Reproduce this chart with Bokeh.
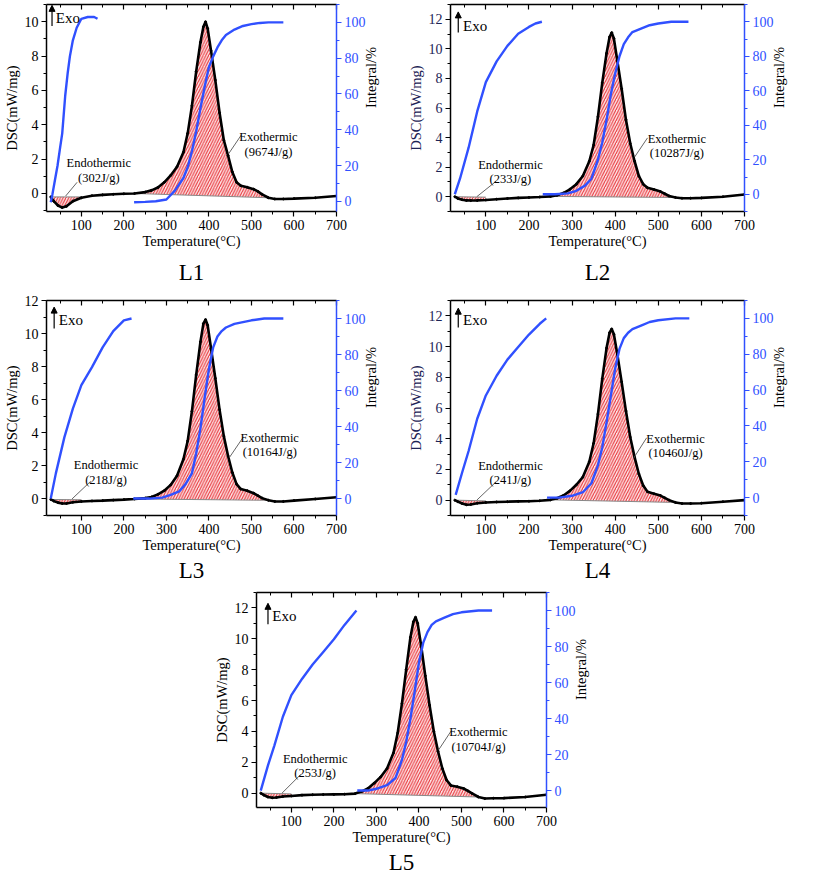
import math
from bokeh.plotting import figure
from bokeh.models import (Range1d, LinearAxis, Title, Arrow, NormalHead, Label,
                          Spacer, SingleIntervalTicker)
from bokeh.layouts import column, row
from bokeh.embed import file_html
from bokeh.resources import INLINE

FONT = "Liberation Serif"
BLUE = "#3050ff"
RED = "#e8333a"

# ---------------- data ----------------
T = [28, 35, 45, 55, 65, 80, 100, 125, 150, 175, 200, 225, 250, 265, 280, 295,
     310, 325, 340, 350, 360, 370, 380, 387, 392, 397, 405, 415, 425, 435, 445,
     455, 465, 475, 490, 505, 515, 525, 540, 555, 575, 600, 650, 700]

L1_dsc = [-0.2, -0.45, -0.7, -0.82, -0.75, -0.45, -0.25, -0.13, -0.08, -0.05, -0.02, 0.0, 0.08, 0.18, 0.35, 0.65,
          1.05, 1.55, 2.4, 3.5, 5.1, 7.1, 8.8, 9.7, 10.0, 9.6, 8.3, 6.6, 4.7, 3.1, 2.2,
          1.25, 0.65, 0.45, 0.36, 0.25, 0.12, -0.05, -0.25, -0.32, -0.32, -0.3, -0.25, -0.15]
L2_dsc = [0.0, -0.12, -0.2, -0.25, -0.26, -0.25, -0.22, -0.17, -0.12, -0.08, -0.05, -0.02, 0.02, 0.1, 0.25, 0.5,
          0.85, 1.4, 2.4, 3.5, 5.4, 7.7, 9.7, 10.8, 11.1, 10.7, 9.2, 7.3, 5.2, 3.6, 2.4,
          1.4, 0.85, 0.6, 0.48, 0.35, 0.2, 0.05, -0.05, -0.1, -0.1, -0.08, 0.0, 0.15]
L3_dsc = [-0.03, -0.12, -0.22, -0.27, -0.27, -0.2, -0.15, -0.12, -0.1, -0.07, -0.04, 0.0, 0.05, 0.12, 0.28, 0.5,
          0.85, 1.4, 2.4, 3.5, 5.3, 7.5, 9.5, 10.6, 10.85, 10.5, 9.1, 7.3, 5.4, 3.8, 2.6,
          1.6, 0.9, 0.6, 0.5, 0.35, 0.2, 0.05, -0.08, -0.15, -0.15, -0.1, 0.0, 0.1]
L4_dsc = [0.0, -0.1, -0.22, -0.3, -0.28, -0.2, -0.15, -0.12, -0.1, -0.08, -0.07, -0.04, 0.02, 0.12, 0.3, 0.6,
          1.0, 1.5, 2.5, 3.7, 5.6, 7.9, 9.9, 10.9, 11.15, 10.8, 9.5, 7.7, 5.8, 4.1, 2.8,
          1.7, 0.95, 0.55, 0.42, 0.3, 0.15, 0.0, -0.15, -0.22, -0.22, -0.2, -0.1, 0.0]
L5_dsc = [0.0, -0.12, -0.25, -0.3, -0.28, -0.22, -0.18, -0.13, -0.1, -0.09, -0.08, -0.07, -0.03, 0.1, 0.3, 0.65,
          1.05, 1.6, 2.6, 3.9, 5.8, 8.0, 10.1, 11.1, 11.4, 11.0, 9.6, 7.6, 5.7, 4.0, 2.7,
          1.6, 0.85, 0.5, 0.42, 0.3, 0.15, -0.02, -0.25, -0.35, -0.33, -0.32, -0.25, -0.1]

# integral curves (%)
L1_endo_T = [28, 32, 38, 44, 50, 55, 62, 68, 73, 80, 89, 100, 115, 130, 138]
L1_endo_I = [-0.5, 4, 12, 20, 30, 38, 59, 72, 81, 90, 97, 102, 103, 103, 102]
L1_exo_T = [224, 250, 275, 300, 320, 340, 350, 360, 370, 380, 390, 400, 410, 420, 430, 440, 460, 480, 500, 520, 540, 575]
L1_exo_I = [-0.5, -0.3, 0, 1, 6, 13, 19, 28, 39, 52, 64, 75, 81, 86, 90, 93, 96, 98, 99, 99.7, 100, 100]

L2_endo_T = [28, 40, 60, 80, 100, 125, 150, 175, 200, 215, 230]
L2_endo_I = [0, 9, 27, 48, 65, 77, 86, 93, 97, 99, 100]
L2_exo_T = [232, 260, 290, 310, 330, 345, 360, 370, 380, 390, 400, 410, 420, 430, 440, 460, 480, 500, 530, 570]
L2_exo_I = [0, 0, 0.5, 2, 5, 9, 20, 30, 43, 58, 70, 80, 87, 91, 94, 96, 98, 99, 100, 100]

L3_endo_T = [28, 40, 60, 80, 100, 125, 150, 175, 200, 218]
L3_endo_I = [0, 14, 34, 50, 63, 73, 84, 93, 99, 100]
L3_exo_T = [222, 260, 290, 310, 330, 345, 360, 370, 380, 390, 400, 410, 420, 430, 440, 460, 480, 500, 530, 575]
L3_exo_I = [0, 0, 0.5, 2, 4, 8, 14, 25, 39, 56, 72, 84, 90, 93, 95, 97, 98, 99, 100, 100]

L4_endo_T = [30, 45, 60, 80, 100, 125, 150, 175, 200, 225, 240]
L4_endo_I = [1.5, 14, 26, 44, 57, 68, 77, 84, 91, 97, 100]
L4_exo_T = [242, 270, 300, 325, 345, 360, 370, 380, 390, 400, 410, 420, 430, 440, 460, 480, 500, 540, 572]
L4_exo_I = [0, 0, 1, 3, 8, 18, 28, 42, 57, 72, 83, 89, 92, 94, 96, 98, 99, 100, 100]

L5_endo_T = [28, 45, 60, 80, 100, 125, 150, 175, 200, 225, 253]
L5_endo_I = [0, 14, 25, 41, 53, 62, 70, 77, 84, 92, 100]
L5_exo_T = [255, 280, 300, 325, 345, 360, 370, 380, 390, 400, 410, 420, 430, 440, 460, 480, 500, 540, 572]
L5_exo_I = [0, 0, 1, 3, 7, 17, 27, 40, 55, 71, 82, 88, 92, 94, 96, 98, 99, 100, 100]

# integration limits (T) and baseline values at those limits
L1_endo_base = [28, 100, -0.2, -0.2]
L1_exo_base = [225, 540, 0.0, -0.25]
L2_endo_base = [28, 100, 0.0, -0.03]
L2_exo_base = [250, 540, 0.02, -0.05]
L3_endo_base = [28, 100, -0.03, -0.05]
L3_exo_base = [225, 540, 0.0, -0.08]
L4_endo_base = [28, 100, 0.0, -0.05]
L4_exo_base = [250, 540, 0.02, -0.15]
L5_endo_base = [28, 100, 0.0, -0.05]
L5_exo_base = [250, 540, -0.03, -0.25]

panel_names = ["L1", "L2", "L3", "L4", "L5"]
endo_texts = ["(302J/g)", "(233J/g)", "(218J/g)", "(241J/g)", "(253J/g)"]
exo_texts = ["(9674J/g)", "(10287J/g)", "(10164J/g)", "(10460J/g)", "(10704J/g)"]


def region(dsc, base):
    a, b, ya, yb = base
    xs = [t for t in T if a <= t <= b]
    ys = [v for t, v in zip(T, dsc) if a <= t <= b]
    return xs + [b, a], ys + [yb, ya]


def make_panel(name, dsc, endo_T, endo_I, exo_T, exo_I, endo_base, exo_base,
               endo_txt, exo_txt, ylim, rlim, ann, left_color,
               width, height, bl, br, bt, bb, title_standoff):
    p = figure(width=width, height=height, output_backend="svg", toolbar_location=None,
               x_range=Range1d(18, 700), y_range=Range1d(*ylim),
               min_border_left=bl, min_border_right=br, min_border_top=bt, min_border_bottom=bb)
    p.extra_y_ranges = {"int": Range1d(*rlim)}
    p.xgrid.visible = False
    p.ygrid.visible = False
    p.outline_line_color = None
    p.background_fill_color = "white"
    p.border_fill_color = "white"

    def style(ax, color="black", label_color="black"):
        ax.axis_line_color = color
        ax.axis_line_width = 1.5
        ax.major_tick_line_color = color
        ax.minor_tick_line_color = color
        ax.major_tick_line_width = 1.2
        ax.minor_tick_line_width = 1.0
        ax.major_tick_out = 5
        ax.major_tick_in = 0
        ax.minor_tick_out = 3
        ax.minor_tick_in = 0
        ax.major_label_text_font = FONT
        ax.major_label_text_font_size = "14px"
        ax.major_label_text_color = label_color
        ax.major_label_standoff = 3
        ax.axis_label_text_font = FONT
        ax.axis_label_text_font_size = "14.5px"
        ax.axis_label_text_font_style = "normal"
        ax.axis_label_text_color = label_color if color == "black" else "black"
        ax.axis_label_standoff = 2

    xa = p.xaxis[0]
    xa.ticker = SingleIntervalTicker(interval=100, num_minor_ticks=2)
    xa.axis_label = "Temperature(°C)"
    style(xa)
    xa.axis_label_standoff = 0

    ya = p.yaxis[0]
    ya.ticker = SingleIntervalTicker(interval=2, num_minor_ticks=2)
    ya.axis_label = "DSC(mW/mg)"
    style(ya, "black", left_color)

    top = LinearAxis(ticker=SingleIntervalTicker(interval=100, num_minor_ticks=2))
    style(top)
    top.major_tick_out = 0
    top.major_tick_in = 5
    top.minor_tick_out = 0
    top.minor_tick_in = 3
    top.major_label_text_font_size = "1px"
    top.major_label_text_color = None
    top.major_label_standoff = 0
    p.add_layout(top, "above")

    ra = LinearAxis(y_range_name="int", ticker=SingleIntervalTicker(interval=20, num_minor_ticks=2),
                    axis_label="Integral/%")
    style(ra, BLUE, BLUE)
    ra.axis_label_text_color = "black"
    ra.axis_label_orientation = math.pi / 2
    p.add_layout(ra, "right")

    # hatched areas
    for base in (endo_base, exo_base):
        xs, ys = region(dsc, base)
        p.patch(xs, ys, fill_color="#fde6e6", fill_alpha=1.0, line_color=None,
                hatch_pattern="/", hatch_color=RED, hatch_weight=1.1, hatch_scale=5.5)
        p.line([base[0], base[1]], [base[2], base[3]], line_color="#888888", line_width=1)

    # DSC curve
    p.line(T, dsc, line_color="black", line_width=2.6)
    p.scatter(T, dsc, size=2, color="black")

    # integral curves
    p.line(endo_T, endo_I, y_range_name="int", line_color=BLUE, line_width=2.4)
    p.line(exo_T, exo_I, y_range_name="int", line_color=BLUE, line_width=2.4)

    # Exo arrow
    ax_, ay0, ay1, ex, ey = ann["exo"]
    p.add_layout(Arrow(end=NormalHead(size=6, line_color="black", fill_color="black", line_width=1),
                       x_start=ax_, y_start=ay0, x_end=ax_, y_end=ay1,
                       line_color="black", line_width=1.2))
    p.add_layout(Label(x=ex, y=ey, text="Exo", text_font=FONT, text_font_size="15px",
                       text_color="black", text_baseline="middle", text_align="left"))

    # annotations
    for key, lines in (("endo", ("Endothermic", endo_txt)), ("exo_ann", ("Exothermic", exo_txt))):
        tx, ty1, ty2, lx0, ly0, lx1, ly1 = ann[key]
        p.add_layout(Label(x=tx, y=ty1, text=lines[0], text_font=FONT, text_font_size="12.5px",
                           text_color="black", text_align="center", text_baseline="middle"))
        p.add_layout(Label(x=tx, y=ty2, text=lines[1], text_font=FONT, text_font_size="12.5px",
                           text_color="black", text_align="center", text_baseline="middle"))
        p.line([lx0, lx1], [ly0, ly1], line_color="#555555", line_width=0.9)

    p.add_layout(Title(text=name, align="center", text_font=FONT, text_font_size="23px",
                       text_font_style="normal", text_color="black", standoff=title_standoff), "below")
    return p


ann1 = {"exo": (31, 9.75, 10.95, 40, 10.2),
        "endo": (141, 1.76, 0.92, 90, 0.65, 63, -0.15),
        "exo_ann": (540, 3.26, 2.42, 476, 3.4, 446, 2.3)}
ann2 = {"exo": (36, 11.1, 12.5, 47, 11.56),
        "endo": (157, 2.14, 1.19, 124, 1.05, 79, 0.0),
        "exo_ann": (543, 3.9, 2.93, 475, 3.98, 445, 2.68)}
ann3 = {"exo": (36, 10.3, 11.6, 47, 10.8),
        "endo": (158, 2.05, 1.17, 122, 1.07, 78, 0.0),
        "exo_ann": (543, 3.7, 2.83, 481, 3.75, 449, 2.54)}
ann4 = {"exo": (36, 11.25, 12.5, 47, 11.7),
        "endo": (157, 2.25, 1.33, 124, 1.2, 79, 0.0),
        "exo_ann": (540, 4.0, 3.05, 473, 4.06, 443, 2.74)}
ann5 = {"exo": (45, 10.95, 12.3, 55, 11.5),
        "endo": (156, 2.2, 1.32, 122, 1.21, 78, 0.0),
        "exo_ann": (540, 3.94, 3.0, 476, 4.04, 446, 2.79)}

NAVY = "#1c2355"

p1 = make_panel("L1", L1_dsc, L1_endo_T, L1_endo_I, L1_exo_T, L1_exo_I, L1_endo_base, L1_exo_base,
                endo_texts[0], exo_texts[0], (-1.05, 11.0), (-5.7, 110), ann1, "black",
                396, 290, 38, 60, 4, 70, 12)
p2 = make_panel("L2", L2_dsc, L2_endo_T, L2_endo_I, L2_exo_T, L2_exo_I, L2_endo_base, L2_exo_base,
                endo_texts[1], exo_texts[1], (-1.0, 13.0), (-10, 110), ann2, NAVY,
                401, 290, 54, 49, 4, 70, 12)
p3 = make_panel("L3", L3_dsc, L3_endo_T, L3_endo_I, L3_exo_T, L3_exo_I, L3_endo_base, L3_exo_base,
                endo_texts[2], exo_texts[2], (-1.0, 12.0), (-9.4, 110), ann3, "black",
                396, 292, 10, 60, 10, 64, 0)
p3.min_border_left = 38
p4 = make_panel("L4", L4_dsc, L4_endo_T, L4_endo_I, L4_exo_T, L4_exo_I, L4_endo_base, L4_exo_base,
                endo_texts[3], exo_texts[3], (-1.0, 13.0), (-10, 110), ann4, NAVY,
                401, 292, 54, 49, 10, 64, 0)
p5 = make_panel("L5", L5_dsc, L5_endo_T, L5_endo_I, L5_exo_T, L5_exo_I, L5_endo_base, L5_exo_base,
                endo_texts[4], exo_texts[4], (-0.93, 13.0), (-9.4, 110), ann5, "black",
                396, 292, 38, 60, 10, 64, 0)

layout = column(row(p1, p2), row(p3, p4), row(Spacer(width=210, height=292), p5))

open("out.html", "w").write(file_html(layout, INLINE))
